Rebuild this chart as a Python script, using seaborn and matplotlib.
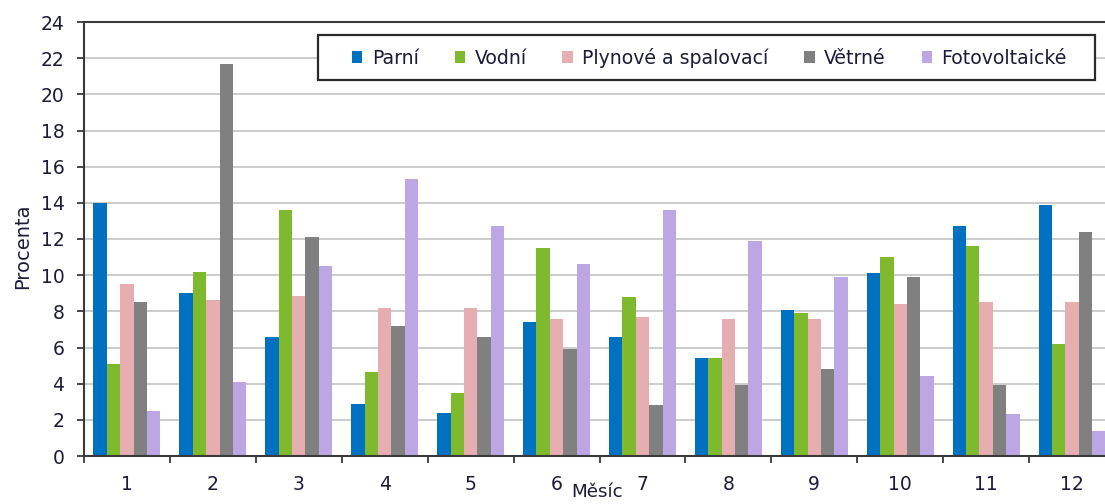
import matplotlib
matplotlib.use("Agg")
import matplotlib.pyplot as plt
from matplotlib.patches import Rectangle
from matplotlib.ticker import FixedLocator, NullFormatter
import seaborn as sns
import pandas as pd
import numpy as np

# Monthly share of annual electricity production (%) by plant type
months = ["1", "2", "3", "4", "5", "6", "7", "8", "9", "10", "11", "12"]
series_names = ["Parní", "Vodní", "Plynové a spalovací", "Větrné", "Fotovoltaické"]
parni = [14.0, 9.0, 6.6, 2.9, 2.4, 7.4, 6.6, 5.4, 8.1, 10.1, 12.7, 13.9]
vodni = [5.1, 10.2, 13.6, 4.65, 3.5, 11.5, 8.8, 5.4, 7.9, 11.0, 11.6, 6.2]
plynove = [9.5, 8.6, 8.85, 8.2, 8.2, 7.6, 7.7, 7.6, 7.6, 8.4, 8.5, 8.5]
vetrne = [8.5, 21.7, 12.1, 7.2, 6.6, 5.9, 2.8, 3.9, 4.8, 9.9, 3.9, 12.4]
fotovoltaicke = [2.5, 4.1, 10.5, 15.3, 12.7, 10.6, 13.6, 11.9, 9.9, 4.4, 2.3, 1.4]
colors = ["#0070c0", "#7fba2e", "#e6aeb1", "#808080", "#bca7e4"]

values = [parni, vodni, plynove, vetrne, fotovoltaicke]
df = pd.DataFrame({
    "Měsíc": months * len(series_names),
    "Typ": np.repeat(series_names, len(months)),
    "Procenta": np.concatenate(values),
})

sns.set_theme(style="white")
plt.rcParams["font.family"] = ["DejaVu Sans"]
text_color = "#1c1c3a"
spine_color = "#3a3a3a"

fig = plt.figure(figsize=(11.05, 5.04), dpi=100)
ax = fig.add_axes([84 / 1105, 48 / 504, 1031 / 1105, 434 / 504])

sns.barplot(
    data=df, x="Měsíc", y="Procenta", hue="Typ",
    order=months, hue_order=series_names, palette=colors,
    width=0.78, saturation=1, linewidth=0, ax=ax, legend=False,
)

ax.set_xlim(-0.5, 11.5)
ax.set_ylim(0, 24)
ax.set_yticks(np.arange(0, 25, 2))
ax.yaxis.grid(True, color="#c8c8c8", linewidth=1.3)
ax.xaxis.grid(False)
ax.set_axisbelow(True)

# Category boundaries carry the tick marks, labels sit at category centres
ax.xaxis.set_major_locator(FixedLocator(np.arange(-0.5, 12, 1)))
ax.xaxis.set_major_formatter(NullFormatter())
ax.set_xticks(np.arange(12), minor=True)
ax.set_xticklabels(months, minor=True)
ax.tick_params(axis="x", which="major", direction="out", length=5, width=1.3,
               color=spine_color, bottom=True)
ax.tick_params(axis="x", which="minor", length=0, pad=14, labelsize=13.5,
               labelcolor=text_color)
ax.tick_params(axis="y", direction="out", length=5, width=1.3, color=spine_color,
               pad=9, labelsize=13.5, labelcolor=text_color, left=True)

for side in ["left", "bottom", "top"]:
    ax.spines[side].set_visible(True)
    ax.spines[side].set_color(spine_color)
    ax.spines[side].set_linewidth(1.5)
ax.spines["right"].set_visible(False)

ax.set_ylabel("Procenta", fontsize=14, color=text_color)
ax.yaxis.set_label_coords(-0.05, 0.484)
ax.set_xlabel("Měsíc", fontsize=13.2, color=text_color)
ax.xaxis.set_label_coords(0.498, -0.062)

# Legend in a single row inside a rectangular frame
handles = [Rectangle((0, 0), 1, 1, facecolor=c, edgecolor="none") for c in colors]
fig.legend(
    handles, series_names, loc="center left",
    bbox_to_anchor=(352 / 1105, 1 - 57.5 / 504), bbox_transform=fig.transFigure,
    ncol=5, frameon=False, fontsize=13.6, handlelength=0.55, handleheight=0.55,
    handletextpad=0.5, columnspacing=1.9, borderpad=0, borderaxespad=0,
    labelcolor=text_color,
)
fig.patches.append(Rectangle(
    (318 / 1105, 1 - 80 / 504), (1095 - 318) / 1105, 45 / 504,
    transform=fig.transFigure, facecolor="white", edgecolor="#2a2a2a",
    linewidth=1.6, zorder=2,
))

fig.savefig("out.png", dpi=100)
